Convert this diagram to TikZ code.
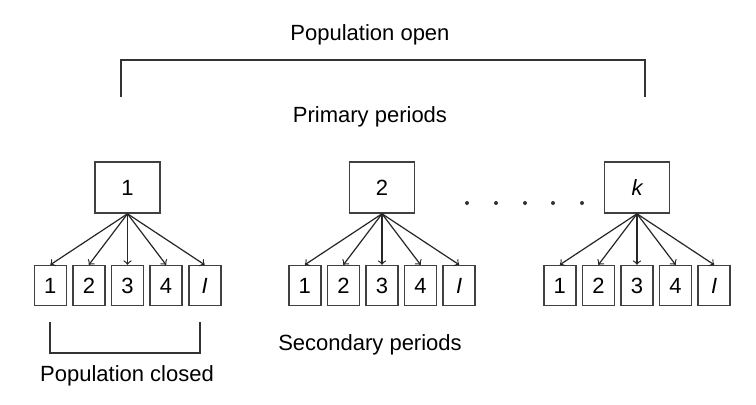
\documentclass[tikz,border=0pt]{standalone}
\usepackage{fontspec}
\setmainfont{Liberation Sans}
\usetikzlibrary{positioning}

\tikzset{
  pbox/.style={draw=black!75,line width=0.8pt,minimum width=32.5pt,minimum height=25.5pt,inner sep=0pt},
  sbox/.style={draw=black!75,line width=0.8pt,minimum width=16pt,minimum height=20pt,inner sep=0pt},
  fan/.style={->,draw=black!85,line width=0.6pt}
}

\begin{document}
\begin{tikzpicture}[x=0.5pt,y=-0.5pt,font=\fontsize{11}{13}\selectfont]
        \useasboundingbox (0,0) rectangle (756,404);
        \node (open)    at (370,35)  {Population open};
        \node (primary) at (370,117) {Primary periods};
        \draw[black!80,line width=0.7pt] (121,97) -- (121,60) -- (645,60) -- (645,97);

        \node[pbox] (p1) at (127.5,187.5) {1};
        \node[pbox] (p2) at (382,187.5)   {2};
        \node[pbox] (pk) at (637,187.5)   {\itshape k};
        \foreach \x in {467,496,525,553,582} \fill[black!80] (\x,203) circle (2);

        \node[sbox,below=25.5pt of p1] (p1c) {3};
        \node[sbox,left=2.5pt of p1c]  (p1b) {2};
        \node[sbox,left=2.5pt of p1b]  (p1a) {1};
        \node[sbox,right=2.5pt of p1c] (p1d) {4};
        \node[sbox,right=2.5pt of p1d] (p1e) {\itshape I};

        \node[sbox,below=25.5pt of p2] (p2c) {3};
        \node[sbox,left=2.5pt of p2c]  (p2b) {2};
        \node[sbox,left=2.5pt of p2b]  (p2a) {1};
        \node[sbox,right=2.5pt of p2c] (p2d) {4};
        \node[sbox,right=2.5pt of p2d] (p2e) {\itshape I};

        \node[sbox,below=25.5pt of pk] (pkc) {3};
        \node[sbox,left=2.5pt of pkc]  (pkb) {2};
        \node[sbox,left=2.5pt of pkb]  (pka) {1};
        \node[sbox,right=2.5pt of pkc] (pkd) {4};
        \node[sbox,right=2.5pt of pkd] (pke) {\itshape I};

        \draw[fan] (p1.south) -- (p1a.north); \draw[fan] (p1.south) -- (p1b.north);
        \draw[fan] (p1.south) -- (p1c.north); \draw[fan] (p1.south) -- (p1d.north);
        \draw[fan] (p1.south) -- (p1e.north);
        \draw[fan] (p2.south) -- (p2a.north); \draw[fan] (p2.south) -- (p2b.north);
        \draw[fan] (p2.south) -- (p2c.north); \draw[fan] (p2.south) -- (p2d.north);
        \draw[fan] (p2.south) -- (p2e.north);
        \draw[fan] (pk.south) -- (pka.north); \draw[fan] (pk.south) -- (pkb.north);
        \draw[fan] (pk.south) -- (pkc.north); \draw[fan] (pk.south) -- (pkd.north);
        \draw[fan] (pk.south) -- (pke.north);

        \node (secondary) at (370,345) {Secondary periods};
        \draw[black!80,line width=0.7pt] (50,322) -- (50,353) -- (200,353) -- (200,322);
        \node (closed) at (127,376) {Population closed};
\end{tikzpicture}
\end{document}
